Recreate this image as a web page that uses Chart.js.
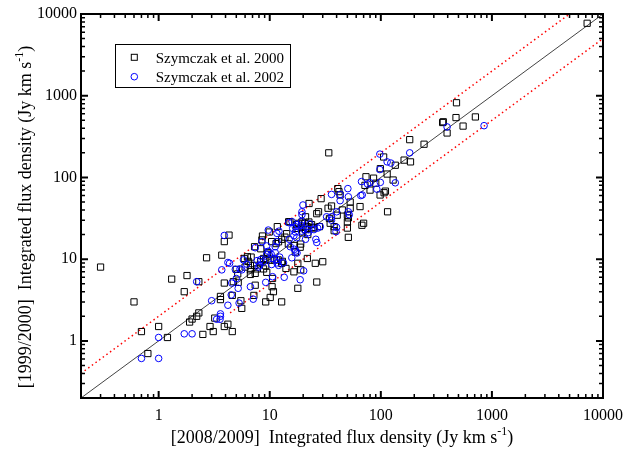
<!DOCTYPE html>
<html><head><meta charset="utf-8">
<script src="https://cdn.jsdelivr.net/npm/chart.js@4.4.1/dist/chart.umd.min.js"></script>
<style>html,body{margin:0;padding:0;background:#fff;}</style>
</head><body>
<canvas id="c" width="631" height="450"></canvas>
<script>
// ---- data ----
const seriesNames = ['Szymczak et al. 2000', 'Szymczak et al. 2002'];
const squareX = [0.3,0.6,0.7,0.8,1.0,1.2,1.31,1.7,1.8,1.9,2.0,2.2,2.3,2.3,2.5,2.7,2.9,3.1,3.2,3.6,3.6,3.7,3.9,4.3,3.9,4.2,4.6,3.9,4.6,4.7,5.0,5.15,5.2,5.5,5.6,5.9,6.3,6.7,6.8,6.7,7.2,7.4,7.3,7.4,7.7,8.3,8.5,8.6,9.2,9.2,9.4,9.2,9.6,9.9,10.1,10.5,10.8,10.6,11,11.4,12,11.7,11.9,13,12.8,14,14.2,14.7,14.8,16.5,17,17.5,17.9,17.9,18.8,19.5,21.8,23.8,25.7,26.5,30,38,51,50,67.6,70,21,22,28,35,7200,480,475,710,365,360,550,395,182,245,34,106,135,162,185,99,114,73.5,86,72,90,129,80,110,41,42,29,22.6,65,98.5,107,115,53,36,45,33.5,27.5,40.5,53,50,34.5,21,26.5,15.2,18.1,21.7,25,8.3,10.4,12.8,20.8,17.6,13.7,19.8,16.5,19,9.5,8.8,10.1,12.8,8.8,6.4,6.7,6,7.3,19,43,50,51,22.5,24.5,19.5,38];
const squareY = [8,3,1.3,0.7,1.5,1.1,5.7,4.0,6.3,1.7,1.85,2.0,2.2,5.3,1.2,10.4,1.5,1.3,1.9,3.2,3.5,11.2,16.4,19.7,1.5,1.6,1.3,5.1,3.6,5.3,7.5,6.6,5.2,3.1,2.5,10.2,10.7,7.4,10.6,6.5,3.6,4.8,14.2,6.7,7.6,9.3,17.2,19.2,8.3,3.0,6.9,9.8,12,21.5,3.4,4.6,4.0,5.8,9.8,15.5,16.3,25,9.8,9.4,3.0,7.7,20.5,15.4,28.7,7.0,12.2,26.5,4.4,8.9,14,28.5,10.2,26.5,8.9,5.25,9.3,22.3,18.5,24,26,27.5,23,20,25,27.5,7700,820,540,550,480,470,425,350,290,255,200,178,141,163,155,128,110,102,98,80,85,93,70,68,73,67,55,48,44,61,65,38,50,44.7,40,42,38,34.5,42,34.5,31.5,33,36,28.7,27.4,25,24,13.4,16.4,17.5,27.3,23.8,18.6,21,14.7,15.3,11.5,10.2,9.7,8.9,7.6,9.4,8.4,8,8.4,7.4,61,28.5,32,28.5,24.5,24.5,25];
const circleX = [0.7,1.0,1.0,1.7,2.0,2.2,3.0,3.33,3.57,3.6,3.6,3.7,3.9,4.2,4.35,4.2,4.5,4.55,4.9,5.0,5.2,5.3,5.4,5.6,6.2,7.1,6.7,7.4,7.9,8.1,8.5,8.8,9.2,9.4,9.7,10.3,10.6,10.4,11.2,11.6,12.1,11.6,12.3,13.5,15,14.8,15.8,16.7,17,17.5,17.6,18.8,19.3,20.2,20.3,22.3,39.5,26,26.5,25,36,395,850,98,182,114,123,98,67,80,99,76,135,92,50.5,36,43,51,19.9,66,68,43,40,36,51,32.5,19.5,19.5,15.9,17.6,19.3,23,9.4,11.6,19.2,16.1,17,16.5,15.3,17.2,21,8.3,9.7,11.2,10.8,11.6,12,5.8,7.7,13.3,52,28.5,27,22.5,40];
const circleY = [0.61,1.1,0.61,1.22,1.22,5.3,3.1,1.84,1.84,2.14,2.0,7.4,19.5,9.1,8.9,2.73,3.65,5.1,7.5,5.8,4.4,2.9,7.6,7.4,8.7,3.24,4.6,13.8,8.0,8.4,16.4,9.3,5.2,11.5,22.7,11.5,6.1,8.6,14.2,20.7,22,9.9,10.6,6.0,17.5,28,10.4,13.2,25,18.3,11.9,5.6,22,7.2,23.2,21.2,21.7,17.5,16,23,30,415,430,193,200,155,150,125,89,86,87,83,86,72,73,62,62,58,46,60,61,52,38,33,38,33,38,35,28.7,26.5,28.7,27,14.5,16.4,26,23.8,21.5,19.4,14.2,12.6,17.5,9.9,12.5,12,10.2,9,8.4,9.8,9.6,9,35,25,24,23,24.5];
const xTickLabels = [1, 10, 100, 1000, 10000];
const yTickLabels = [1, 10, 100, 1000, 10000];
const axisMin = 0.2, axisMax = 10000;
const minorMultipliers = [2,3,4,5,6,7,8,9];
const oneToOneX = [0.2, 10000], oneToOneY = [0.2, 10000];
const upperX = [0.2, 5000], upperY = [0.4, 10000];
const lowerX = [4.4, 10000], lowerY = [2.2, 5000];
const xTitle = ['[2008/2009]  Integrated flux density (Jy km s', '-1', ')'];
const yTitle = ['[1999/2000]  Integrated flux density (Jy km s', '-1', ')'];

const SERIF = '"Liberation Serif", "Times New Roman", serif';
const pts = (xs, ys) => xs.map((x, i) => ({x: x, y: ys[i]}));

function drawTitle(ctx, parts, cx, cy, rot) {
  ctx.save();
  ctx.translate(cx, cy); ctx.rotate(rot);
  const main = '18px ' + SERIF, sup = '12px ' + SERIF;
  ctx.font = main; const w1 = ctx.measureText(parts[0]).width, w3 = ctx.measureText(parts[2]).width;
  ctx.font = sup; const w2 = ctx.measureText(parts[1]).width;
  let xx = -(w1 + w2 + w3) / 2;
  ctx.fillStyle = '#000'; ctx.textBaseline = 'alphabetic'; ctx.textAlign = 'left';
  ctx.font = main; ctx.fillText(parts[0], xx, 5); xx += w1;
  ctx.font = sup; ctx.fillText(parts[1], xx, -3); xx += w2;
  ctx.font = main; ctx.fillText(parts[2], xx, 5);
  ctx.restore();
}

const framePlugin = {
  id: 'frame',
  afterDraw(chart) {
    const {ctx, chartArea: a, scales: {x, y}} = chart;
    ctx.save();
    ctx.strokeStyle = '#000';
    const ticks = [];
    for (let e = -1; e <= 4; e++) {
      const d = Math.pow(10, e);
      ticks.push({v: d, major: true});
      minorMultipliers.forEach(m => ticks.push({v: m * d, major: false}));
    }
    ticks.filter(t => t.v >= axisMin * 0.999 && t.v <= axisMax * 1.001).forEach(t => {
      const L = t.major ? 7 : 4;
      ctx.lineWidth = t.major ? 2 : 1.5;
      const px = x.getPixelForValue(t.v), py = y.getPixelForValue(t.v);
      ctx.beginPath();
      ctx.moveTo(px, a.bottom); ctx.lineTo(px, a.bottom - L);
      ctx.moveTo(px, a.top); ctx.lineTo(px, a.top + L);
      ctx.moveTo(a.left, py); ctx.lineTo(a.left + L, py);
      ctx.moveTo(a.right, py); ctx.lineTo(a.right - L, py);
      ctx.stroke();
    });
    ctx.lineWidth = 2;
    ctx.strokeRect(a.left, a.top, a.right - a.left, a.bottom - a.top);

    // legend
    ctx.lineWidth = 1;
    ctx.strokeRect(115.5, 44.5, 175, 43);
    ctx.strokeStyle = '#000';
    ctx.strokeRect(131.3, 54.3, 6, 6);
    ctx.strokeStyle = '#0000ff';
    ctx.beginPath(); ctx.arc(134.3, 76.7, 3.3, 0, Math.PI * 2); ctx.stroke();
    ctx.fillStyle = '#000'; ctx.font = '15px ' + SERIF; ctx.textBaseline = 'alphabetic';
    ctx.fillText(chart.data.datasets[0].label, 155.7, 62.5);
    ctx.fillText(chart.data.datasets[1].label, 155.7, 82);

    drawTitle(ctx, xTitle, (a.left + a.right) / 2, 438, 0);
    drawTitle(ctx, yTitle, 26, 217, -Math.PI / 2);
    ctx.restore();
  }
};

const logAxis = (labels, pos) => ({
  type: 'logarithmic', position: pos, min: axisMin, max: axisMax,
  grid: {display: false, drawTicks: false}, border: {display: false},
  afterBuildTicks: s => { s.ticks = labels.map(v => ({value: v})); },
  ticks: {
    autoSkip: false, maxRotation: 0, color: '#000',
    padding: pos === 'left' ? 4 : 8,
    font: {family: SERIF, size: 16},
    callback: v => labels.includes(v) ? String(v) : ''
  },
  afterFit: s => { if (pos === 'left') s.width = 81; else s.height = 52; }
});

new Chart(document.getElementById('c'), {
  type: 'scatter',
  data: {
    datasets: [
      {label: seriesNames[0], data: pts(squareX, squareY), pointStyle: 'rect', pointRadius: 4.4,
       borderColor: '#000', backgroundColor: 'rgba(0,0,0,0)', borderWidth: 1, order: 2},
      {label: seriesNames[1], data: pts(circleX, circleY), pointStyle: 'circle', pointRadius: 3.3,
       borderColor: '#0000ff', backgroundColor: 'rgba(0,0,0,0)', borderWidth: 1, order: 1},
      {label: 'y=x', data: pts(oneToOneX, oneToOneY), showLine: true, pointRadius: 0,
       borderColor: '#444', borderWidth: 1, order: 3},
      {label: 'y=2x', data: pts(upperX, upperY), showLine: true, pointRadius: 0,
       borderColor: '#ff0000', borderWidth: 1.5, borderDash: [1.5, 3], order: 3},
      {label: 'y=x/2', data: pts(lowerX, lowerY), showLine: true, pointRadius: 0,
       borderColor: '#ff0000', borderWidth: 1.5, borderDash: [1.5, 3], order: 3}
    ]
  },
  options: {
    responsive: false, devicePixelRatio: 1, animation: false, events: [],
    layout: {padding: {left: 0, right: 28, top: 14, bottom: 0}},
    plugins: {legend: {display: false}, tooltip: {enabled: false}, title: {display: false}},
    scales: {x: logAxis(xTickLabels, 'bottom'), y: logAxis(yTickLabels, 'left')}
  },
  plugins: [framePlugin]
});
</script>
</body></html>
